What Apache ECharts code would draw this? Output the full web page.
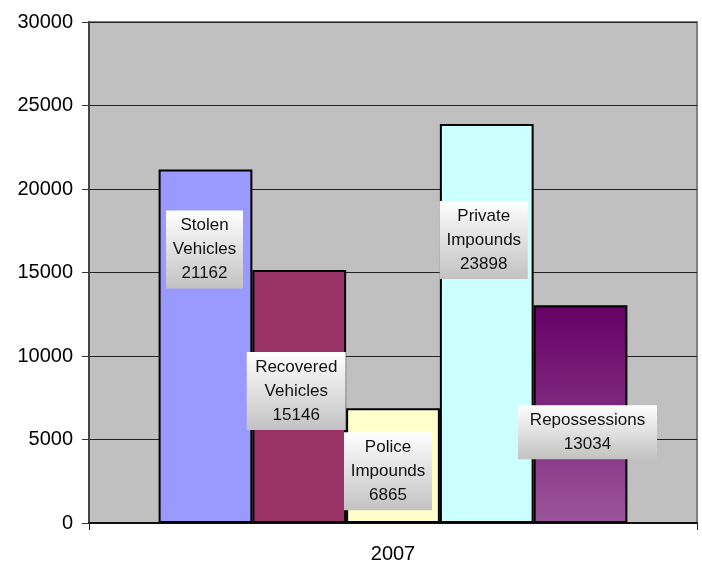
<!DOCTYPE html>
<html>
<head>
<meta charset="utf-8">
<script src="https://cdn.jsdelivr.net/npm/echarts@6/dist/echarts.min.js"></script>
<style>
  html, body { margin: 0; padding: 0; background: #fff; }
  #chart { width: 702px; height: 564px; }
</style>
</head>
<body>
<div id="chart"></div>
<script>
// data
const categories = ['2007']
const seriesNames = ['Stolen Vehicles', 'Recovered Vehicles', 'Police Impounds', 'Private Impounds', 'Repossessions']
const seriesValues = [21162, 15146, 6865, 23898, 13034]
const yTicks = [0, 5000, 10000, 15000, 20000, 25000, 30000]

const chart = echarts.init(document.getElementById('chart'))

const grad = (top, bottom) => new echarts.graphic.LinearGradient(0, 0, 0, 1, [
  { offset: 0, color: top }, { offset: 1, color: bottom }
])

// per-bar look: fill, label box width, label nudge
const looks = [
  { fill: '#9999ff', w: 77, off: [-1, 36] },
  { fill: '#993366', w: 99, off: [-3, 77] },
  { fill: '#ffffcc', w: 88, off: [-5, 19] },
  { fill: '#ccffff', w: 88, off: [-3, 72] },
  { fill: grad('#660066', '#9a559a'), w: 139, off: [7, 95] }
]

const series = seriesNames.map((name, i) => ({
  name,
  type: 'bar',
  data: [seriesValues[i]],
  barGap: '0%',
  barCategoryGap: '22.9%',
  itemStyle: { color: looks[i].fill, borderColor: '#000', borderWidth: 2 },
  label: {
    show: true,
    position: 'insideTop',
    offset: looks[i].off,
    formatter: p => p.seriesName.split(' ').join('\n') + '\n' + p.value,
    fontFamily: 'Liberation Sans, Arial, sans-serif',
    fontSize: 17,
    lineHeight: 24,
    color: '#111',
    width: looks[i].w,
    align: 'center',
    padding: [3, 0],
    backgroundColor: grad('#ffffff', '#c2c2c2')
  }
}))

chart.setOption({
  animation: false,
  grid: {
    left: 89, right: 5, top: 22, bottom: 41,
    show: true, backgroundColor: '#c0c0c0', borderColor: '#808080', borderWidth: 2
  },
  xAxis: {
    type: 'category',
    data: categories,
    axisLine: { lineStyle: { color: '#111', width: 2 } },
    axisTick: { show: true, length: 7, lineStyle: { color: '#222' } },
    axisLabel: { fontFamily: 'Liberation Sans, Arial, sans-serif', fontSize: 20, color: '#000', margin: 21 }
  },
  yAxis: {
    type: 'value',
    min: yTicks[0],
    max: yTicks[yTicks.length - 1],
    interval: yTicks[1] - yTicks[0],
    axisLine: { show: true, lineStyle: { color: '#444', width: 2 } },
    axisTick: { show: true, length: 7, lineStyle: { color: '#333' } },
    splitLine: { lineStyle: { color: '#222', width: 1 } },
    axisLabel: { fontFamily: 'Liberation Sans, Arial, sans-serif', fontSize: 20, color: '#000', margin: 16, formatter: v => String(v) }
  },
  series
})
</script>
</body>
</html>
